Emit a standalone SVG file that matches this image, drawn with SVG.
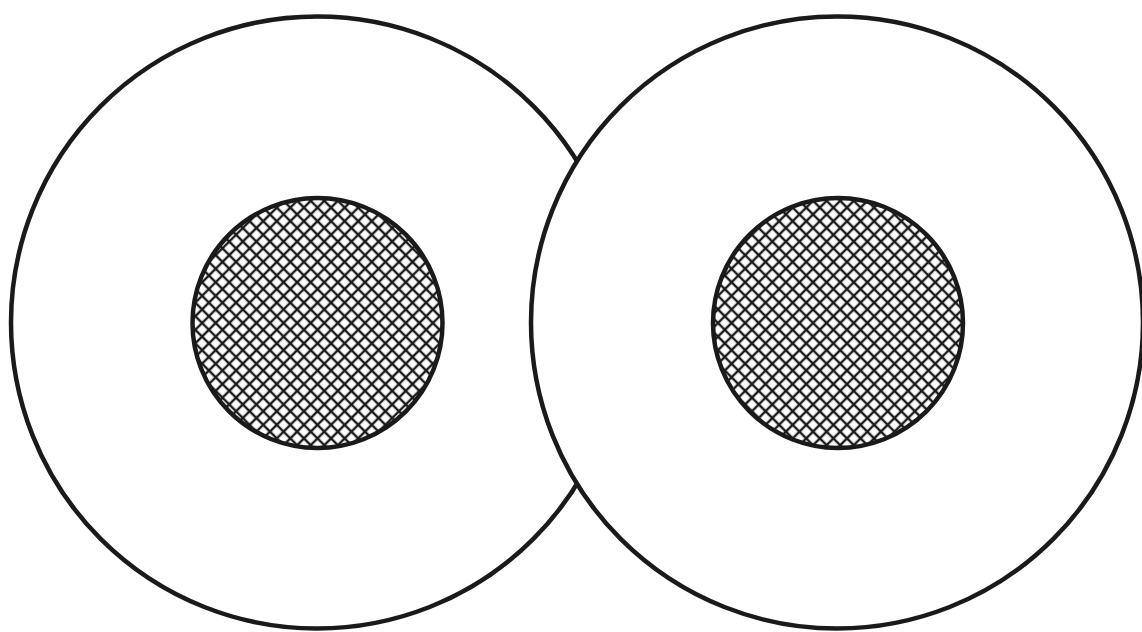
<svg xmlns="http://www.w3.org/2000/svg" width="1142" height="632" viewBox="0 0 1142 632">
<defs>
<pattern id="hatch" width="9.6" height="9.6" patternUnits="userSpaceOnUse" patternTransform="translate(317.5 323) rotate(45)">
<rect width="9.6" height="9.6" fill="#fff"/>
<path d="M0 4.8H9.6M4.8 0V9.6" stroke="#1a1a1a" stroke-width="2.4"/>
</pattern>
</defs>
<style>
.outer{fill:#fff;stroke:#1a1a1a;stroke-width:4.5}
.inner{fill:url(#hatch);stroke:#1a1a1a;stroke-width:4.5}
</style>
<rect width="1142" height="632" fill="#fff"/>
<g id="left">
<circle class="outer" cx="317" cy="322.5" r="306"/>
<circle class="inner" cx="317.5" cy="323" r="125"/>
</g>
<g id="right">
<circle class="outer" cx="837" cy="322.5" r="306"/>
<circle class="inner" cx="838" cy="323" r="125"/>
</g>
</svg>
